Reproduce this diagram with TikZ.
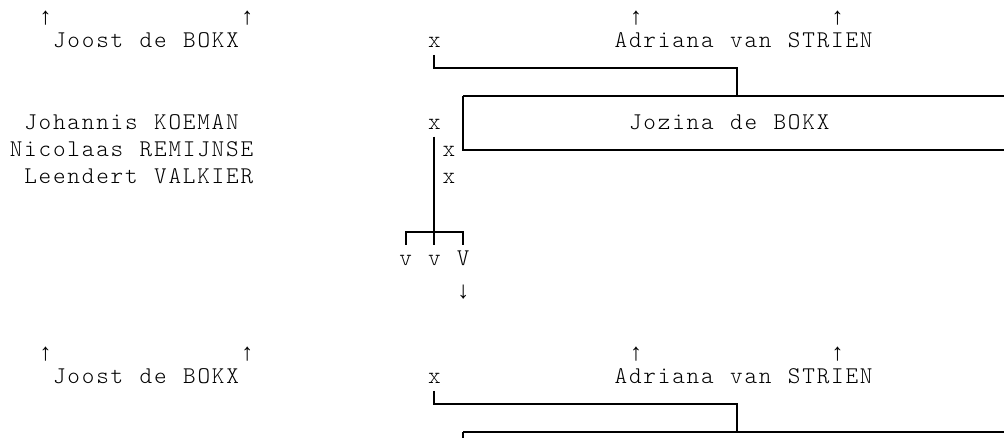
\documentclass[tikz,border=0pt]{standalone}
\usepackage{fontspec}
\newfontfamily\courier{lmmonolt10-regular.otf}[LetterSpace=7.5,WordSpace=1.1429]
\newfontfamily\arrowfont{Liberation Mono}

\begin{document}
\begin{tikzpicture}[x=0.75pt,y=-0.75pt,line join=miter,
  every node/.style={inner sep=0pt,font=\courier\fontsize{18}{21}\selectfont},
  pname/.style={anchor=base west},
  sign/.style={anchor=base},
  arw/.style={anchor=center,font=\arrowfont\fontsize{18}{21}\selectfont},
  famline/.style={line width=1.5pt}]
  \clip (0,0) rectangle (1004,438);
  % the couple, shown twice
  \foreach \dy/\g in {0/a,336/b} {
    \node[arw] (upl\g) at (45.6,18+\dy) {↑};
    \node[arw] (upr\g) at (247.2,18+\dy) {↑};
    \node[arw] (upm\g) at (636,18+\dy) {↑};
    \node[arw] (ups\g) at (837.6,18+\dy) {↑};
    \node[pname] (joost\g) at (52.8,47.5+\dy) {Joost de BOKX};
    \node[sign] (wed\g) at (434.4,47.5+\dy) {x};
    \node[pname] (adriana\g) at (614.4,47.5+\dy) {Adriana van STRIEN};
    \coordinate (join\g) at (736.8,95.8+\dy);
    \coordinate (corner\g) at (463.2,95.8+\dy);
    \draw[famline] ([yshift=-5.6pt]wed\g.base) |- ([yshift=20.5pt]join\g) -- (join\g);
    \draw[famline] (1010,95.8+\dy) -- (corner\g);
  }
  % child box and her marriages
  \draw[famline] (cornera) -- (463.2,150.4) -- (1010,150.4);
  \draw[famline] (cornerb) -- (463.2,445);
  \node[pname] (jozina) at (628.8,129.4) {Jozina de BOKX};
  \node[pname] (johannis) at (24,129.4) {Johannis KOEMAN};
  \node[pname] (nicolaas) at (9.6,156.7) {Nicolaas REMIJNSE};
  \node[pname] (leendert) at (24,184.0) {Leendert VALKIER};
  \node[sign] (xjoh) at (434.4,129.4) {x};
  \node[sign] (xnic) at (448.8,156.7) {x};
  \node[sign] (xlee) at (448.8,184.0) {x};
  % children
  \node[sign] (kid1) at (405.6,265.9) {v};
  \node[sign] (kid2) at (434.4,265.9) {v};
  \node[sign] (kid3) at (463.2,265.9) {V};
  \node[arw] (down) at (463.2,291.7) {↓};
  \coordinate (tee) at (434.4,232.3);
  \draw[famline] ([yshift=-5.5pt]xjoh.base) -- ([yshift=16pt]kid2.base);
  \draw[famline] ([yshift=16pt]kid1.base) |- (tee) -| ([yshift=16pt]kid3.base);
\end{tikzpicture}
\end{document}
